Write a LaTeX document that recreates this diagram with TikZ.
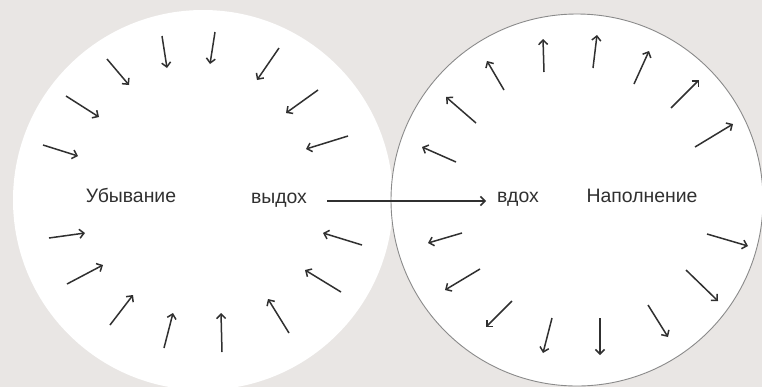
\documentclass[tikz,border=0pt]{standalone}
\usepackage{fontspec}
\setmainfont{Liberation Sans}
\usetikzlibrary{arrows.meta}
\definecolor{bg}{HTML}{E9E6E4}
\definecolor{ink}{HTML}{303030}
\definecolor{rim}{HTML}{8A8A8A}
\tikzset{
  ray/.style={draw=ink, line width=1.5bp, -{Straight Barb[length=4.5bp,width=9bp,line width=1.5bp]}},
  lbl/.style={text=ink, font=\fontsize{19.5}{22}\selectfont, inner sep=0pt, anchor=base}
}
\begin{document}
\begin{tikzpicture}[x=1bp,y=-1bp]
\fill[bg] (0,0) rectangle (762,387);
\useasboundingbox (0,0) rectangle (762,387);
\begin{scope}
\clip (0,0) rectangle (762,387);
\fill[white] (203,200) circle[radius=190];
\fill[white] (577,200) circle[radius=186];
\draw[rim, line width=0.9bp] (577,200) circle[radius=186];
\end{scope}
% left circle arrows (inward)
\foreach \a/\b/\c/\d in {43/145/78/156, 66/96/99/117, 107/59/129/85, 162/36/167/68,
  215/32/210/64, 279/48/257/80, 318/90/286/113, 348/136/306/149,
  49/238/85/233, 67/284/103/265, 110/325/133/295, 164/348/173/313,
  222/352/221/313, 289/333/268/299, 341/292/305/270, 362/245/323/233}
  {\draw[ray] (\a,\b) -- (\c,\d);}
% right circle arrows (outward)
\foreach \a/\b/\c/\d in {456/162/422/147, 476/123/446/97, 504/90/487/61, 544/72/543/39,
  593/68/597/35, 634/84/649/51, 671/108/699/80, 695/147/733/124,
  462/233/428/243, 480/269/445/290, 512/301/486/327, 552/318/543/353,
  600/318/600/355, 648/305/668/337, 686/270/718/301, 707/234/748/246}
  {\draw[ray] (\a,\b) -- (\c,\d);}
\node[lbl] (ub) at (131,202) {Убывание};
\node[lbl] (vyd) at (279,203) {выдох};
\node[lbl] (vd) at (518,202) {вдох};
\node[lbl] (nap) at (642,202) {Наполнение};
\coordinate (s) at (327,201);
\coordinate (e) at (486,201);
\draw[ray] (s) -- (e);
\end{tikzpicture}
\end{document}
